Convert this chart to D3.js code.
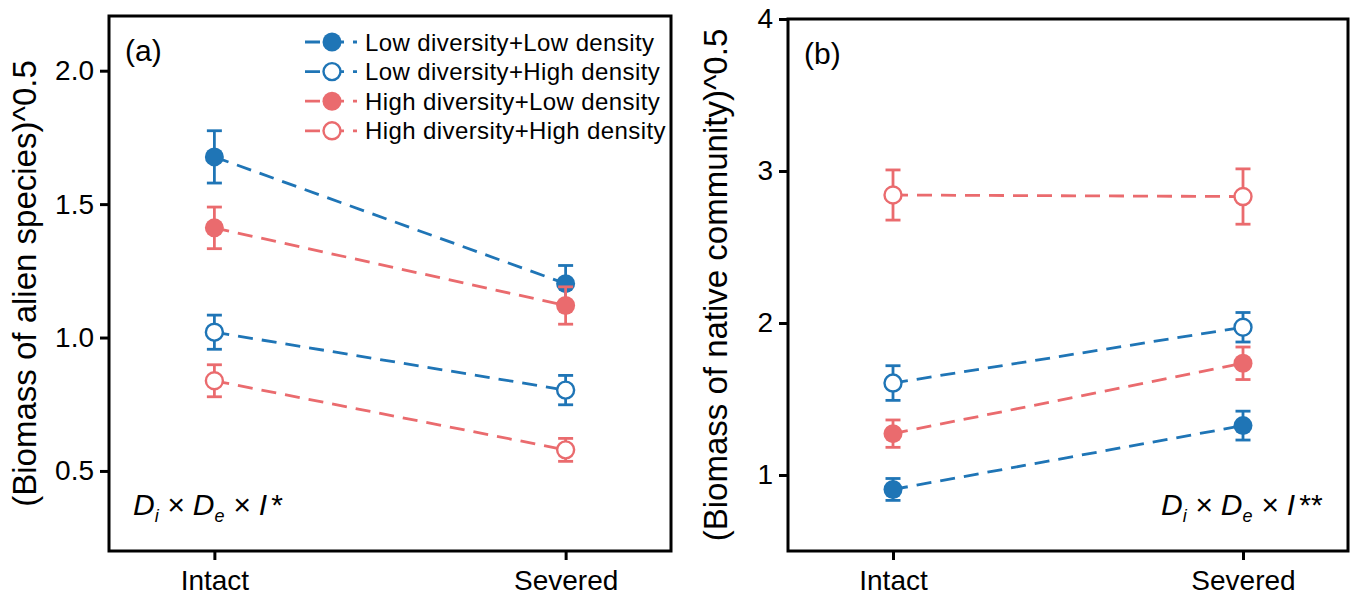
<!DOCTYPE html>
<html>
<head>
<meta charset="utf-8">
<script src="https://cdn.jsdelivr.net/npm/d3@7"></script>
<style>
  html, body { margin: 0; padding: 0; background: #fff; }
  svg { display: block; font-family: "Liberation Sans", Arial, Helvetica, sans-serif; }
</style>
</head>
<body>
<svg id="chart" width="1351" height="596"></svg>
<script>
// ---------- data ----------
const categories = ["Intact", "Severed"];
const seriesNames = [
  "Low diversity+Low density",
  "Low diversity+High density",
  "High diversity+Low density",
  "High diversity+High density"
];
const seriesColor = ["blue", "blue", "red", "red"];
const seriesFilled = [true, false, true, false];

// Panel (a): (Biomass of alien species)^0.5
const alienLL = [1.677, 1.202];
const alienLH = [1.020, 0.803];
const alienHL = [1.411, 1.120];
const alienHH = [0.838, 0.579];
const alienLLse = [0.098, 0.068];
const alienLHse = [0.064, 0.055];
const alienHLse = [0.078, 0.070];
const alienHHse = [0.060, 0.043];

// Panel (b): (Biomass of native community)^0.5
const nativeLL = [0.905, 1.325];
const nativeLH = [1.605, 1.972];
const nativeHL = [1.272, 1.735];
const nativeHH = [2.842, 2.832];
const nativeLLse = [0.072, 0.095];
const nativeLHse = [0.114, 0.097];
const nativeHLse = [0.090, 0.107];
const nativeHHse = [0.165, 0.182];

const alienTicks = [0.5, 1.0, 1.5, 2.0];
const nativeTicks = [1, 2, 3, 4];

// ---------- styles ----------
const COLORS = { blue: "#1f75b6", red: "#ea6b6e" };
const LW = 2.8;
const svg = d3.select("#chart");

function drawPanel(cfg) {
  const g = svg.append("g");
  const x = d3.scaleLinear().domain([-0.3, 1.3]).range([cfg.left, cfg.right]);
  const y = d3.scaleLinear().domain(cfg.yDomain).range([cfg.bottom, cfg.top]);

  // axes
  const ya = g.append("g").attr("transform", `translate(${cfg.left},0)`)
    .call(d3.axisLeft(y).tickValues(cfg.ticks).tickFormat(cfg.fmt).tickSize(9).tickPadding(6));
  ya.select(".domain").remove();
  ya.selectAll("line").attr("stroke", "#000").attr("stroke-width", 3);
  ya.selectAll("text").attr("font-size", 28).attr("fill", "#000").attr("font-family", "Liberation Sans, Arial, sans-serif");

  const xa = g.append("g").attr("transform", `translate(0,${cfg.bottom})`)
    .call(d3.axisBottom(x).tickValues([0, 1]).tickFormat(i => categories[i]).tickSize(9).tickPadding(10));
  xa.select(".domain").remove();
  xa.selectAll("line").attr("stroke", "#000").attr("stroke-width", 3);
  xa.selectAll("text").attr("font-size", 28).attr("fill", "#000").attr("font-family", "Liberation Sans, Arial, sans-serif");

  // frame
  g.append("rect")
    .attr("x", cfg.left).attr("y", cfg.top)
    .attr("width", cfg.right - cfg.left).attr("height", cfg.bottom - cfg.top)
    .attr("fill", "none").attr("stroke", "#000").attr("stroke-width", 3);

  // y label
  g.append("text")
    .attr("transform", `translate(${cfg.ylabX},${(cfg.top + cfg.bottom) / 2}) rotate(-90)`)
    .attr("text-anchor", "middle")
    .attr("font-size", 33)
    .text(cfg.ylab);

  // panel letter
  g.append("text").attr("x", cfg.left + 16).attr("y", cfg.top + 45)
    .attr("font-size", 30).text(cfg.letter);

  // series
  cfg.means.forEach((m, si) => {
    const col = COLORS[seriesColor[si]];
    const se = cfg.ses[si];
    const pts = m.map((v, i) => ({ i, v, se: se[i] }));
    const sg = g.append("g");
    sg.append("path")
      .attr("d", d3.line().x(d => x(d.i)).y(d => y(d.v))(pts))
      .attr("fill", "none").attr("stroke", col).attr("stroke-width", LW)
      .attr("stroke-dasharray", "15,9");
    pts.forEach(d => {
      const cx = x(d.i);
      sg.append("line").attr("x1", cx).attr("x2", cx)
        .attr("y1", y(d.v - d.se)).attr("y2", y(d.v + d.se))
        .attr("stroke", col).attr("stroke-width", LW);
      [d.v - d.se, d.v + d.se].forEach(e => {
        sg.append("line").attr("x1", cx - 7.5).attr("x2", cx + 7.5)
          .attr("y1", y(e)).attr("y2", y(e))
          .attr("stroke", col).attr("stroke-width", LW);
      });
    });
    sg.selectAll("circle.pt").data(pts).enter().append("circle")
      .attr("cx", d => x(d.i)).attr("cy", d => y(d.v))
      .attr("r", seriesFilled[si] ? 9.5 : 8.5)
      .attr("fill", seriesFilled[si] ? col : "#fff")
      .attr("stroke", col).attr("stroke-width", seriesFilled[si] ? 0 : 2.4);
  });

  // annotation
  const t = g.append("text").attr("x", cfg.annX).attr("y", cfg.annY)
    .attr("font-size", 30).attr("font-style", "italic");
  t.append("tspan").text("D");
  t.append("tspan").attr("font-size", 18).attr("dy", 7).text("i");
  t.append("tspan").attr("dy", -7).text(" \u00d7 D");
  t.append("tspan").attr("font-size", 18).attr("dy", 7).text("e");
  t.append("tspan").attr("dy", -7).text(" \u00d7 I");
  t.append("tspan").attr("dx", 3).text(cfg.star);
  return { x, y };
}

drawPanel({
  left: 109, right: 671, top: 16, bottom: 551,
  yDomain: [0.2, 2.205], ticks: alienTicks, fmt: d3.format(".1f"),
  ylab: "(Biomass of alien species)^0.5", ylabX: 36, letter: "(a)",
  means: [alienLL, alienLH, alienHL, alienHH],
  ses: [alienLLse, alienLHse, alienHLse, alienHHse],
  annX: 133, annY: 515, star: "*"
});

drawPanel({
  left: 788, right: 1348, top: 19, bottom: 551,
  yDomain: [0.5, 4], ticks: nativeTicks, fmt: d3.format("d"),
  ylab: "(Biomass of native community)^0.5", ylabX: 727, letter: "(b)",
  means: [nativeLL, nativeLH, nativeHL, nativeHH],
  ses: [nativeLLse, nativeLHse, nativeHLse, nativeHHse],
  annX: 1161, annY: 515, star: "**"
});

// legend (inside panel a)
const lg = svg.append("g");
seriesNames.forEach((name, i) => {
  const cy = 42 + i * 29.6;
  const col = COLORS[seriesColor[i]];
  lg.append("line").attr("x1", 305).attr("x2", 357).attr("y1", cy).attr("y2", cy)
    .attr("stroke", col).attr("stroke-width", LW).attr("stroke-dasharray", "15,9");
  lg.append("circle").attr("cx", 332).attr("cy", cy)
    .attr("r", seriesFilled[i] ? 9.5 : 8.5)
    .attr("fill", seriesFilled[i] ? col : "#fff")
    .attr("stroke", col).attr("stroke-width", seriesFilled[i] ? 0 : 2.4);
  lg.append("text").attr("x", 365).attr("y", cy + 8.5)
    .attr("font-size", 24).attr("letter-spacing", 0.4).text(name);
});
</script>
</body>
</html>
